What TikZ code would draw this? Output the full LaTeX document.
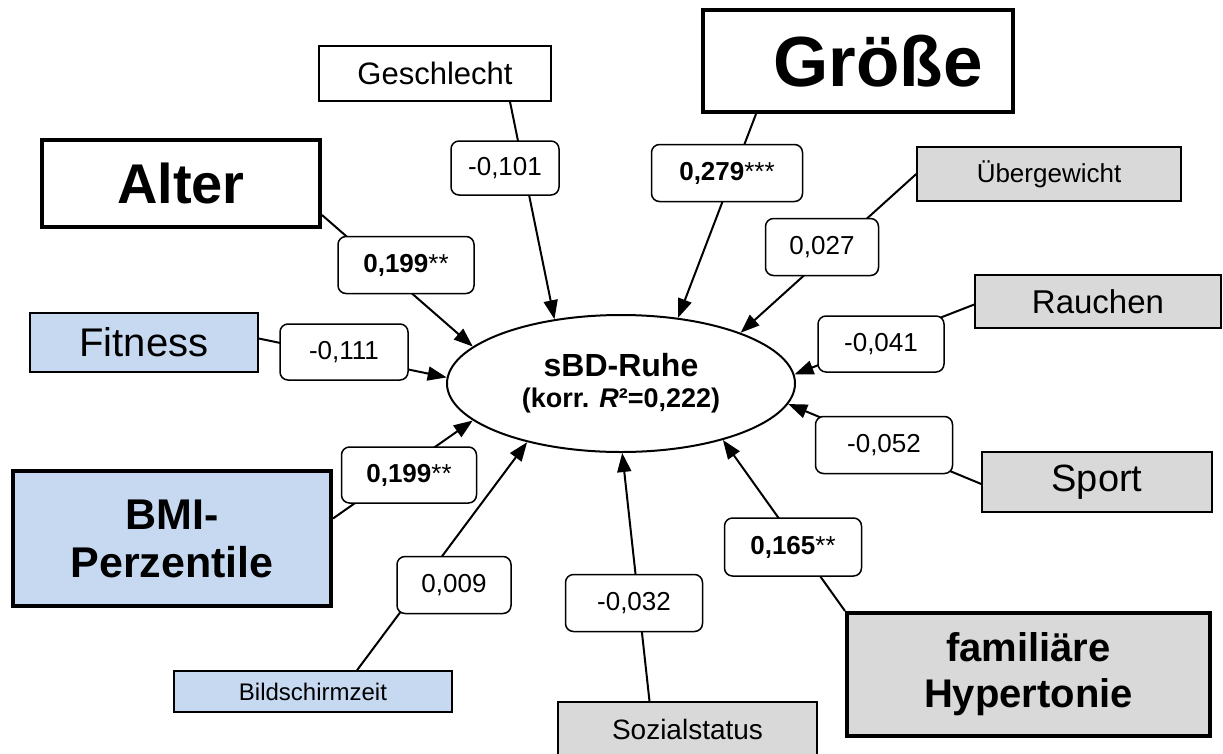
\documentclass[tikz,border=0pt]{standalone}
\usepackage{fontspec}
\setmainfont{Liberation Sans}
\usetikzlibrary{shapes.geometric,arrows.meta}
\definecolor{lblue}{HTML}{C6D9F1}
\definecolor{lgray}{HTML}{D9D9D9}
\begin{document}
\begin{tikzpicture}[x=1pt,y=-1pt,
  pred/.style={draw, line width=1.5pt, inner sep=0pt, align=center},
  bigpred/.style={pred, line width=4pt},
  coef/.style={draw, fill=white, rounded corners=8pt, line width=1.5pt, inner sep=0pt, font=\fontsize{26}{30}\selectfont},
  arr/.style={line width=2pt, -{Triangle[length=19pt,width=14pt]}}]
\useasboundingbox (0,0) rectangle (1223,753);
% predictors
\node[pred, minimum width=232, minimum height=55, font=\fontsize{31}{36}\selectfont] (geschlecht) at (435,73.5) {Geschlecht};
\node[bigpred, minimum width=310, minimum height=102, font=\fontsize{71}{80}\selectfont\bfseries] (groesse) at (858,61) {\hspace*{40pt}Größe};
\node[bigpred, minimum width=278, minimum height=87, font=\fontsize{56}{64}\selectfont\bfseries] (alter) at (181,183.5) {Alter};
\node[pred, fill=lblue, minimum width=228, minimum height=59, font=\fontsize{40}{46}\selectfont] (fitness) at (144,342.5) {Fitness};
\node[bigpred, fill=lblue, minimum width=318, minimum height=135, font=\fontsize{43}{48}\selectfont\bfseries] (bmi) at (172,538.5) {BMI-\\Perzentile};
\node[pred, fill=lblue, minimum width=278, minimum height=41, font=\fontsize{24}{28}\selectfont] (bild) at (313,691.5) {Bildschirmzeit};
\node[pred, fill=lgray, minimum width=259, minimum height=54, font=\fontsize{28}{32}\selectfont] (sozial) at (687.5,729) {Sozialstatus};
\node[bigpred, fill=lgray, minimum width=363, minimum height=123, font=\fontsize{40}{46}\selectfont\bfseries] (famil) at (1028.5,674.5) {familiäre\\Hypertonie};
\node[pred, fill=lgray, minimum width=230, minimum height=60, font=\fontsize{38}{44}\selectfont] (sport) at (1097,482) {Sport};
\node[pred, fill=lgray, minimum width=246, minimum height=53, font=\fontsize{33}{38}\selectfont] (rauchen) at (1098,301.5) {Rauchen};
\node[pred, fill=lgray, minimum width=264, minimum height=54, font=\fontsize{26}{30}\selectfont] (ueber) at (1049,174) {Übergewicht};
% outcome
\node[ellipse, draw, line width=2pt, minimum width=348, minimum height=137, inner sep=0pt, align=center] (ruhe) at (621,383.5)
  {{\fontsize{32}{36}\selectfont\bfseries sBD-Ruhe}\\[10pt]{\fontsize{27}{30}\selectfont\bfseries (korr. \textit{R}²=0,222)}};
% connectors
\draw[arr] ([xshift=75pt]geschlecht.south) -- (ruhe.136);
\draw[arr] ([xshift=55pt]groesse.south west) -- (ruhe.49);
\draw[arr] (ueber.west) -- (ruhe.23);
\draw[arr] ([yshift=-3pt]rauchen.west) -- (ruhe.3);
\draw[arr] ([yshift=-2pt]sport.west) -- (ruhe.-7);
\draw[arr] (famil.north west) -- (ruhe.-29);
\draw[arr] ([xshift=-38pt]sozial.north) -- (ruhe.-89);
\draw[arr] ([xshift=44pt]bild.north) -- (ruhe.212.6);
\draw[arr] ([yshift=20pt]bmi.east) -- (ruhe.194.8);
\draw[arr] ([yshift=4pt]fitness.east) -- (ruhe.178.2);
\draw[arr] ([yshift=14pt]alter.south east) -- (ruhe.166.2);
% coefficients
\node[coef, minimum width=108, minimum height=54] (c1) at (505,168) {-0,101};
\node[coef, minimum width=151, minimum height=57] (c2) at (727,173) {{\bfseries 0,279}***};
\node[coef, minimum width=113, minimum height=57] (c3) at (822,247) {0,027};
\node[coef, minimum width=136, minimum height=57] (c4) at (406,265) {{\bfseries 0,199}**};
\node[coef, minimum width=128, minimum height=56] (c5) at (344,352) {-0,111};
\node[coef, minimum width=126, minimum height=56] (c6) at (881,344) {-0,041};
\node[coef, minimum width=137, minimum height=57] (c7) at (884,445) {-0,052};
\node[coef, minimum width=135, minimum height=56] (c8) at (409,475) {{\bfseries 0,199}**};
\node[coef, minimum width=114, minimum height=57] (c9) at (454,585) {0,009};
\node[coef, minimum width=137, minimum height=57] (c10) at (634,603) {-0,032};
\node[coef, minimum width=137, minimum height=58] (c11) at (793,547) {{\bfseries 0,165}**};
\end{tikzpicture}
\end{document}
